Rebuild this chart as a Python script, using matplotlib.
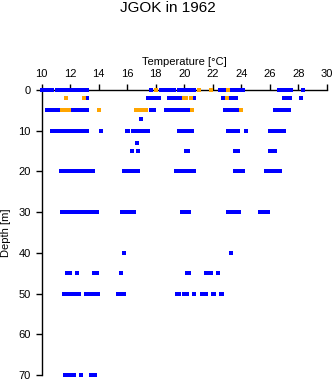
import matplotlib
matplotlib.use("Agg")
import matplotlib.pyplot as plt

# temperature readings (deg C) per sampling depth (m)
blue_0 = [10.05, 10.2, 10.35, 10.5, 10.65, 10.75, 11.05, 11.2, 11.35,
          11.55, 11.7, 11.85, 12.0, 12.15, 12.3, 12.45, 12.6, 12.75, 12.9, 13.2,
          17.68, 18.4, 18.55, 18.85, 19.0, 19.15, 19.3,
          19.6, 19.75, 19.9, 20.05, 20.2, 20.35, 20.5, 20.65,
          22.48, 22.75, 22.9, 23.25, 23.4, 23.55, 23.7, 23.85, 24.0, 24.1,
          26.65, 26.8, 26.95, 27.1, 27.25, 27.4, 27.5, 28.35]
blue_2 = [13.2, 17.45, 17.55, 17.75, 17.9, 18.05, 18.25,
          18.9, 19.05, 19.2, 19.35, 19.5, 19.75, 20.65,
          22.75, 22.9, 23.2, 23.35, 23.5, 23.65,
          27.0, 27.15, 27.3, 27.45, 28.2]
blue_5 = [10.35, 10.45, 10.65, 10.8, 10.95, 11.1, 11.25, 11.75,
          12.0, 12.15, 12.3, 12.45, 12.6, 12.75, 12.9, 13.05, 13.15,
          16.88, 17.65, 17.85, 18.75, 18.9, 19.05, 19.2, 19.3,
          19.55, 19.7, 19.85, 20.0, 20.15, 20.3, 20.4,
          22.85, 23.0, 23.15, 23.3, 23.45, 23.6, 23.75, 23.8,
          26.35, 26.5, 26.65, 26.8, 26.95, 27.1, 27.25, 27.35]
blue_7 = [17.0]
blue_10 = [10.75, 10.9, 11.05, 11.2, 11.35, 11.5, 11.65, 11.8, 11.95, 12.1,
           12.25, 12.4, 12.55, 12.7, 12.85, 13.0, 13.15, 14.15,
           15.95, 16.05, 16.4, 16.55, 16.7, 16.85, 17.0, 17.1, 17.35, 17.45,
           19.6, 19.75, 19.9, 20.05, 20.2, 20.35, 20.5, 20.55,
           23.05, 23.2, 23.35, 23.5, 23.65, 23.8, 24.3,
           26.05, 26.2, 26.35, 26.5, 26.65, 26.8, 26.95, 27.0]
blue_13 = [16.7]
blue_15 = [16.3, 16.75, 20.1, 20.25, 23.55, 23.7, 23.8, 26.0, 26.15, 26.4]
blue_20 = [11.35, 11.5, 11.65, 11.8, 11.95, 12.1, 12.15, 12.4, 12.55, 12.7, 12.85,
           13.0, 13.15, 13.3, 13.45, 13.6, 15.75, 15.9, 16.1,
           16.25, 16.4, 16.55, 16.7, 16.75, 19.4, 19.6,
           19.85, 20.0, 20.15, 20.3, 20.45, 20.65,
           23.55, 23.7, 23.85, 24.0, 24.15,
           25.75, 25.9, 26.05, 26.2, 26.35, 26.5, 26.65, 26.75]
blue_30 = [11.45, 11.6, 11.75, 11.9, 12.05, 12.2, 12.35, 12.5, 12.65, 12.8,
           12.95, 13.1, 13.25, 13.4, 13.55, 13.7, 13.85, 13.9,
           15.65, 15.9, 16.05, 16.2, 16.35, 16.45,
           19.85, 20.0, 20.15, 20.3, 23.1, 23.35, 23.5, 23.65, 23.8, 23.85,
           25.3, 25.45, 25.6, 25.75, 25.9]
blue_40 = [15.75, 23.3]
blue_45 = [11.8, 12.0, 12.5, 13.65, 13.85, 15.55, 20.2, 20.3,
           21.5, 21.65, 21.8, 21.9, 22.4]
blue_50 = [11.55, 11.7, 11.85, 12.0, 12.15, 12.3, 12.35, 12.6,
           13.1, 13.25, 13.4, 13.55, 13.7, 13.85, 13.95,
           15.35, 15.55, 15.8, 19.5, 19.6, 19.95, 20.1, 20.2, 20.65,
           21.25, 21.35, 21.55, 22.0, 22.1, 22.55, 22.65]
blue_70 = [11.6, 11.75, 11.9, 12.05, 12.2, 12.3, 12.75, 13.45, 13.6, 13.75]

orange_0 = [18.05, 21.0, 21.88, 23.05]
orange_2 = [11.68, 12.95, 19.95, 20.05, 20.15, 20.5, 23.02]
orange_5 = [11.4, 11.55, 11.65, 11.88, 14.05, 16.6, 16.75, 17.0, 17.15, 17.3,
            20.52, 24.0]

blue_series = {0: blue_0, 2: blue_2, 5: blue_5, 7: blue_7, 10: blue_10,
               13: blue_13, 15: blue_15, 20: blue_20, 30: blue_30,
               40: blue_40, 45: blue_45, 50: blue_50, 70: blue_70}
orange_series = {0: orange_0, 2: orange_2, 5: orange_5}

x_ticks = [10, 12, 14, 16, 18, 20, 22, 24, 26, 28, 30]
y_ticks = [0, 10, 20, 30, 40, 50, 60, 70]

plt.rcParams['font.family'] = ['Liberation Sans', 'DejaVu Sans']

fig = plt.figure(figsize=(3.35, 3.84), dpi=100)
ax = fig.add_axes([0.1245, 0.0234, 0.851, 0.742])

for depth, temps in blue_series.items():
    ax.plot(temps, [depth] * len(temps), linestyle='none', marker='s',
            markersize=2.2, markeredgewidth=0, color='#0000ff',
            clip_on=False, zorder=3)
for depth, temps in orange_series.items():
    ax.plot(temps, [depth] * len(temps), linestyle='none', marker='s',
            markersize=2.2, markeredgewidth=0, color='#ffa500',
            clip_on=False, zorder=4)

ax.set_xlim(10, 30)
ax.set_ylim(70, 0)
ax.xaxis.tick_top()
ax.xaxis.set_label_position('top')
ax.set_xticks(x_ticks)
ax.set_yticks(y_ticks)
ax.tick_params(axis='both', direction='out', length=4, width=1, labelsize=8,
               pad=4)
ax.spines['right'].set_visible(False)
ax.spines['bottom'].set_visible(False)
for s in ('top', 'left'):
    ax.spines[s].set_linewidth(1)

ax.set_xlabel('Temperature [°C]', fontsize=8, labelpad=3)
ax.set_ylabel('Depth [m]', fontsize=8, labelpad=5)
fig.text(0.5, 0.978, 'JGOK in 1962', ha='center', va='center', fontsize=11)

fig.savefig('out.png', dpi=100)
